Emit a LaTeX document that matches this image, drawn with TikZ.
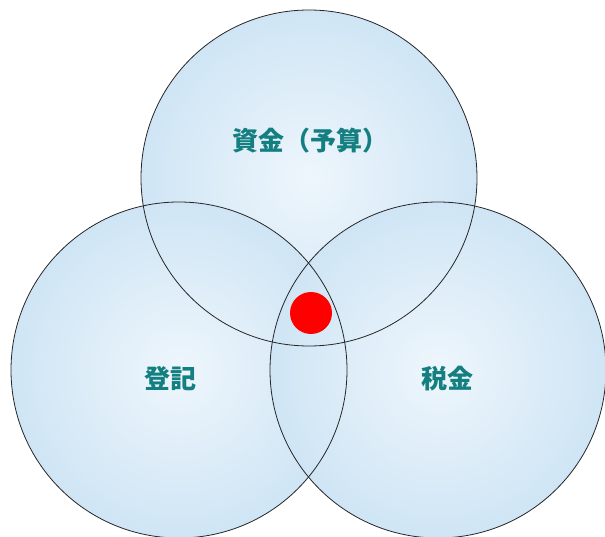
\documentclass[tikz,border=0pt]{standalone}
\usepackage{fontspec}
\newfontfamily\jpfont{Noto Sans CJK JP}
\definecolor{ringfill}{HTML}{CFE5F5}
\definecolor{ringcore}{HTML}{EEF6FC}
\definecolor{lbltxt}{HTML}{137F80}
\tikzset{
  ring/.style={circle,minimum size=336pt,inner sep=0pt,shading=radial,inner color=ringcore,outer color=ringfill},
  rim/.style={circle,minimum size=336pt,inner sep=0pt,draw=black!85,line width=0.8pt},
  lbl/.style={font=\jpfont\bfseries\fontsize{26}{26}\selectfont,text=lbltxt},
  reddot/.style={circle,fill=red,minimum size=42pt,inner sep=0pt},
}
\begin{document}
\begin{tikzpicture}[x=1pt,y=-1pt]
\useasboundingbox[fill=white] (0,0) rectangle (605,537);
% filled circles
\node[ring] (shikin) at (309,178) {};
\node[ring] (touki) at (179,370) {};
\node[ring] (zeikin) at (438,370) {};
% outlines on top
\node[rim] at (shikin) {};
\node[rim] at (touki) {};
\node[rim] at (zeikin) {};
% labels
\node[lbl] (shikinlbl) at (310,141) {資金（予算）};
\node[lbl] (toukilbl) at (170,379) {登記};
\node[lbl] (zeikinlbl) at (447,379) {税金};
\node[reddot] (center) at (311,313) {};
\end{tikzpicture}
\end{document}
